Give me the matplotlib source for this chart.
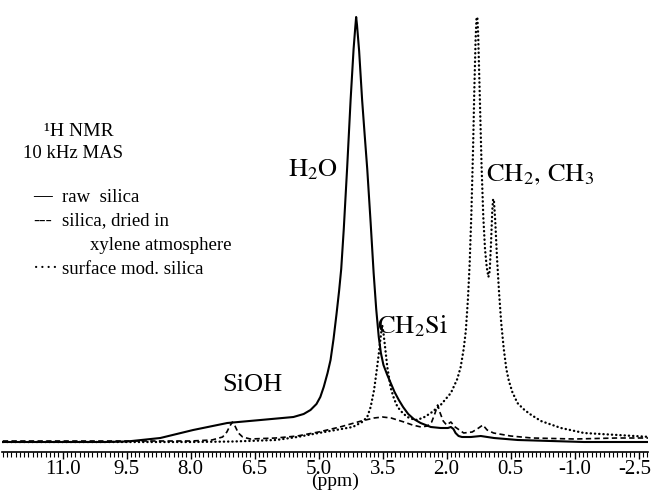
import matplotlib
matplotlib.use("Agg")
import matplotlib.pyplot as plt
import matplotlib.transforms as mtransforms
from matplotlib.ticker import MultipleLocator, FixedLocator

plt.rcParams['font.family'] = ['Liberation Serif', 'DejaVu Serif']
plt.rcParams['mathtext.fontset'] = 'stix'

# ---- data (chemical shift in ppm, relative intensity) ----
raw_ppm = [12.4, 11.0, 10.0, 9.49, 8.71, 7.94, 7.14, 6.36, 5.59, 5.35, 5.19, 5.05, 4.96,
           4.88, 4.79, 4.72, 4.65, 4.58, 4.52, 4.47, 4.41, 4.33, 4.25, 4.18, 4.14, 4.12,
           4.10, 4.05, 3.98, 3.92, 3.86, 3.78, 3.71, 3.65, 3.59, 3.54, 3.48, 3.39, 3.30,
           3.22, 3.12, 3.02, 2.90, 2.77, 2.61, 2.37, 2.14, 1.97, 1.90, 1.84, 1.79, 1.72,
           1.64, 1.43, 1.20, 0.89, 0.33, -0.44, -1.22, -2.79]
raw_int = [7, 7, 7, 7.5, 11, 19, 26, 29, 32, 35, 39, 45, 52,
           62, 76, 89, 110, 135, 158, 180, 220, 282, 349, 400, 422, 432,
           424, 398, 349, 314, 280, 226, 176, 140, 112, 96, 84, 74, 65,
           57, 49, 42, 35, 30, 26, 22, 21, 21, 22, 20, 16, 13,
           12, 12, 13, 11, 9, 8, 7, 7]

dried_ppm = [12.4, 11.0, 10.0, 9.0, 8.0, 7.5, 7.25, 7.15, 7.08, 7.02, 6.96, 6.88, 6.78,
             6.6, 6.0, 5.5, 5.0, 4.5, 4.0, 3.7, 3.5, 3.3, 3.0, 2.8, 2.6, 2.45, 2.35, 2.27,
             2.21, 2.16, 2.08, 2.0, 1.9, 1.8, 1.6, 1.4, 1.25, 1.15, 1.05, 0.9, 0.5, 0.0,
             -1.0, -2.0, -2.79]
dried_int = [8, 8, 8, 8, 8, 9, 12, 17, 23, 27, 23, 16, 12,
             10, 11, 13, 17, 22, 28, 31, 32, 31, 27, 24, 22, 23, 27, 36,
             44, 37, 28, 24, 27, 22, 16, 17, 21, 24, 19, 16, 13, 11,
             10, 11, 11]

mod_ppm = [12.4, 11.0, 10.0, 9.0, 8.0, 7.0, 6.0, 5.5, 5.0, 4.6, 4.2, 3.98, 3.86, 3.78,
           3.70, 3.64, 3.59, 3.54, 3.51, 3.48, 3.45, 3.39, 3.31, 3.23, 3.15, 3.03, 2.92,
           2.80, 2.69, 2.52, 2.37, 2.14, 1.90, 1.75, 1.67, 1.60, 1.55, 1.50, 1.46, 1.42,
           1.38, 1.35, 1.32, 1.30, 1.28, 1.26, 1.22, 1.18, 1.14, 1.10, 1.06, 1.02, 0.99,
           0.96, 0.93, 0.91, 0.89, 0.86, 0.82, 0.77, 0.72, 0.66, 0.60, 0.54, 0.46, 0.34,
           0.20, 0.05, -0.21, -0.68, -1.22, -2.01, -2.79]
mod_int = [7, 7, 7, 7, 7, 7.5, 9, 12, 16, 19, 22, 27, 32, 42,
           59, 78, 95, 114, 124, 116, 105, 82, 61, 50, 42, 36, 32,
           30, 29, 32, 36, 44, 56, 70, 82, 100, 118, 150, 185, 235,
           300, 360, 410, 430, 432, 414, 349, 282, 232, 200, 182, 172, 178,
           205, 238, 250, 248, 228, 192, 156, 126, 100, 80, 68, 57, 46,
           40, 35, 28, 21, 16, 14, 12]

tick_values = [11.0, 9.5, 8.0, 6.5, 5.0, 3.5, 2.0, 0.5, -1.0, -2.5]
tick_labels = ['11.0', '9.5', '8.0', '6.5', '5.0', '3.5', '2.0', '0.5', '-1.0', '-2.5']

W, H = 653, 497
fig = plt.figure(figsize=(W / 100, H / 100), dpi=100)
ax = fig.add_axes([2 / W, 45 / H, 646 / W, 452 / H])

ax.plot(raw_ppm, raw_int, color='black', lw=1.5, solid_joinstyle='round')
ax.plot(dried_ppm, dried_int, color='black', lw=1.2, linestyle=(0, (3.2, 2.0)))
ax.plot(mod_ppm, mod_int, color='black', lw=1.7, linestyle=(0, (0.1, 1.7)),
        dash_capstyle='round')

ax.set_xlim(12.42, -2.72)
ax.set_ylim(-3, 449)

for s in ['top', 'left', 'right']:
    ax.spines[s].set_visible(False)
ax.spines['bottom'].set_linewidth(1.2)
ax.set_yticks([])
ax.xaxis.set_major_locator(FixedLocator(tick_values))
ax.set_xticklabels(tick_labels, fontsize=15)
ax.xaxis.set_minor_locator(MultipleLocator(0.1))
ax.tick_params(axis='x', which='major', direction='out', length=5, width=1, pad=1.0)
ax.tick_params(axis='x', which='minor', direction='out', length=3.5, width=0.8)
last = ax.get_xticklabels()[-1]
last.set_transform(last.get_transform() + mtransforms.ScaledTranslation(-4 / 100, 0, fig.dpi_scale_trans))

fig.text(335 / W, 1 - 481 / H, '(ppm)', fontsize=14, ha='center', va='center')

# annotations
ax.text(5.14, 279, r'$\mathrm{H_2O}$', fontsize=19, ha='center', va='center')
ax.text(6.55, 64, 'SiOH', fontsize=19, ha='center', va='center')
ax.text(2.8, 123, r'$\mathrm{CH_2Si}$', fontsize=19, ha='center', va='center')
ax.text(-0.2, 274, r'$\mathrm{CH_2,\,CH_3}$', fontsize=19, ha='center', va='center')

# legend-like text block
def ftxt(x, y, s, **kw):
    fig.text(x / W, 1 - y / H, s, va='center', **kw)

fs = 13.5
ftxt(79, 131, '\u00b9H NMR', fontsize=14, ha='center')
ftxt(73, 153, '10 kHz MAS', fontsize=fs, ha='center')
ftxt(33, 197, '\u2014', fontsize=fs, ha='left', fontweight='bold')
ftxt(62, 197, 'raw  silica', fontsize=fs, ha='left')
ftxt(33, 221, '---', fontsize=fs, ha='left')
ftxt(62, 221, 'silica, dried in', fontsize=fs, ha='left')
ftxt(90, 245, 'xylene atmosphere', fontsize=fs, ha='left')
ftxt(33, 269, '\u00b7\u00b7\u00b7\u00b7', fontsize=fs, ha='left')
ftxt(62, 269, 'surface mod. silica', fontsize=fs, ha='left')

fig.savefig('out.png', dpi=100)
